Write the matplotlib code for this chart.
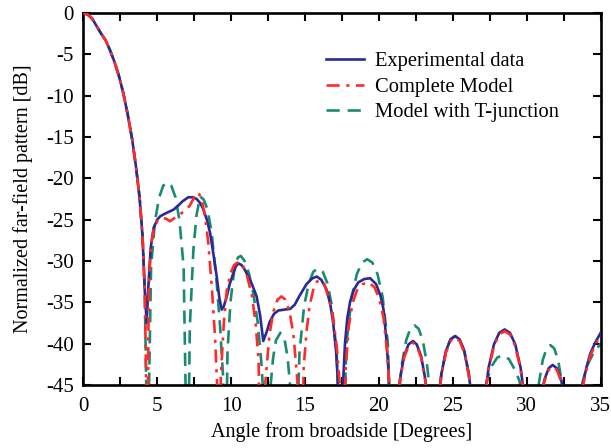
import numpy as np
import matplotlib
matplotlib.use("Agg")
import matplotlib.pyplot as plt
from matplotlib.ticker import MultipleLocator, FuncFormatter

# main lobe (shared by all three curves)
main_x = [0.0, 0.3, 0.6, 0.9, 1.2, 1.5, 1.8, 2.1, 2.4, 2.7, 3.0, 3.3, 3.55, 3.8, 4.0, 4.15]
main_y = [0.0, -0.2, -0.7, -1.6, -2.5, -3.3, -4.5, -5.9, -7.6, -9.7, -12.3, -15.3, -18.5, -22.3, -27.0, -33.5]

# Experimental data (side lobes)
exp_x = [4.28, 4.4, 4.55, 4.75, 5.0, 5.2, 5.5, 5.86, 6.1, 6.42, 6.7, 7.1, 7.4, 7.66, 7.9, 8.1,
         8.35, 8.57, 8.8, 9.02, 9.2, 9.36, 9.5, 9.7, 9.9, 10.14, 10.3, 10.48, 10.7, 10.9, 11.1,
         11.4, 11.72, 11.95, 12.17, 12.4, 12.6, 12.9, 13.2, 13.6, 14.0, 14.3, 14.6, 15.1, 15.5,
         15.8, 16.1, 16.46, 16.7, 16.9, 17.1, 17.25, 17.4, 17.55, 17.7, 17.85, 18.05, 18.3, 18.6,
         19.0, 19.4, 19.8, 20.1, 20.3, 20.5, 20.65, 20.85,
         21.42, 21.7, 22.0, 22.3, 22.55, 22.85, 23.13, 23.3, 23.6,
         24.0, 24.22, 24.53, 24.84, 25.15, 25.46, 25.77, 26.08, 26.3, 26.7,
         27.17, 27.42, 27.78, 28.14, 28.5, 28.86, 29.22, 29.58, 29.83, 30.3,
         30.89, 31.19, 31.48, 31.75, 32.04, 32.33, 32.6, 33.2,
         33.6, 33.8, 34.05, 34.3, 34.6, 35.0]
exp_y = [-37.5, -33.0, -28.5, -26.0, -25.0, -24.6, -24.3, -24.0, -23.8, -23.3, -22.8, -22.3, -22.3,
         -22.5, -23.0, -23.7, -25.0, -26.6, -29.2, -31.9, -34.5, -35.9, -35.5, -34.3, -32.8, -31.5,
         -30.7, -30.3, -30.5, -31.0, -31.7, -32.8, -34.3, -36.5, -39.7, -38.6, -37.4, -36.4, -36.0,
         -35.9, -35.8, -35.3, -34.3, -32.8, -32.1, -31.9, -32.3, -33.5, -35.2, -37.5, -41.0, -45.5,
         -60.0, -45.5, -40.0, -37.0, -34.9, -33.5, -32.6, -32.2, -32.1, -32.8, -34.2, -35.8, -39.5,
         -43.5, -60.0,
         -44.3, -41.5, -40.1, -39.7, -40.1, -41.5, -44.3, -47.0, -60.0,
         -47.1, -43.7, -40.9, -39.5, -39.1, -39.5, -40.9, -43.7, -47.1, -60.0,
         -46.3, -42.9, -40.1, -38.7, -38.3, -38.7, -40.1, -42.9, -46.3, -60.0,
         -47.2, -44.4, -43.0, -42.6, -43.0, -44.4, -47.2, -60.0,
         -47.0, -44.8, -42.8, -41.2, -40.0, -38.7]

# Complete Model
cm_x = [4.25, 4.3, 4.42, 4.55, 4.75, 5.0, 5.3, 5.6, 5.86, 6.1, 6.5, 6.9, 7.2, 7.5, 7.77, 8.0, 8.23,
        8.45, 8.68, 8.9, 9.05, 9.15, 9.3, 9.5, 9.7, 9.95, 10.2, 10.5, 10.8, 11.1, 11.4, 11.65,
        11.85, 12.05,
        12.32, 12.59, 12.86, 13.13, 13.4, 13.67, 13.94, 14.21, 14.48, 14.75,
        14.9, 15.1, 15.3, 15.55, 15.8, 16.0, 16.3, 16.6, 16.9, 17.15, 17.35, 17.55,
        17.75, 17.95, 18.2, 18.5, 18.9, 19.3, 19.7, 20.0, 20.3, 20.55, 20.7, 20.9,
        21.42, 21.7, 22.0, 22.3, 22.55, 22.85, 23.13, 23.3, 23.6,
        24.0, 24.22, 24.53, 24.84, 25.15, 25.46, 25.77, 26.08, 26.3, 26.7,
        27.17, 27.42, 27.78, 28.14, 28.5, 28.86, 29.22, 29.58, 29.83, 30.3,
        30.89, 31.19, 31.48, 31.75, 32.04, 32.33, 32.6, 33.2,
        33.6, 33.8, 34.05, 34.3, 34.6, 35.0]
cm_y = [-45.0, -60.0, -34.0, -28.5, -26.2, -25.2, -24.8, -24.9, -25.2, -24.9, -24.4, -23.9, -23.3,
        -22.3, -21.7, -22.5, -24.6, -27.8, -33.0, -39.0, -45.0, -60.0, -44.0, -37.5, -33.6, -31.5,
        -30.5, -30.1, -30.6, -32.0, -34.2, -37.5, -42.0, -60.0,
        -44.5, -38.9, -36.1, -34.7, -34.3, -34.7, -36.1, -38.9, -44.5, -60.0,
        -43.0, -38.5, -35.5, -33.5, -32.5, -32.3, -32.8, -34.5, -37.0, -40.5, -45.0, -60.0,
        -43.0, -38.0, -35.2, -33.6, -32.8, -32.6, -33.2, -34.5, -36.8, -41.0, -45.0, -60.0,
        -44.5, -41.7, -40.3, -39.9, -40.3, -41.7, -44.5, -47.2, -60.0,
        -47.3, -43.9, -41.1, -39.7, -39.3, -39.7, -41.1, -43.9, -47.3, -60.0,
        -46.5, -43.1, -40.3, -38.9, -38.5, -38.9, -40.3, -43.1, -46.5, -60.0,
        -47.4, -44.6, -43.2, -42.8, -43.2, -44.6, -47.4, -60.0,
        -47.3, -45.1, -43.1, -41.5, -40.3, -39.0]

# Model with T-junction
tj_x = [4.25, 4.3, 4.58, 4.85, 5.13, 5.4, 5.68, 5.95, 6.23, 6.5, 6.78, 7.05,
        7.2, 7.44, 7.65, 7.9, 8.15, 8.4, 8.68, 9.02, 9.25, 9.45, 9.6,
        9.75, 9.95, 10.2, 10.45, 10.65, 10.9, 11.2, 11.5, 11.8, 12.05, 12.2, 12.35,
        12.64, 12.84, 13.03, 13.33, 13.62, 13.82, 14.01, 14.3,
        14.62, 14.93, 15.25, 15.56, 15.88, 16.19, 16.51, 16.82, 17.14, 17.45,
        17.8, 18.15, 18.5, 18.85, 19.2, 19.55, 19.9, 20.25, 20.6, 20.95,
        21.42, 21.56, 21.84, 22.12, 22.4, 22.68, 22.96, 23.24, 23.38, 23.7,
        24.0, 24.22, 24.53, 24.84, 25.15, 25.46, 25.77, 26.08, 26.3, 26.7,
        27.0, 27.3, 27.6, 28.0, 28.4, 28.8, 29.2, 29.5, 29.75, 30.3,
        30.82, 31.08, 31.34, 31.6, 31.86, 32.12, 32.38, 32.56, 32.95,
        33.5, 33.8, 34.1, 34.5, 35.0]
tj_y = [-45.0, -60.0, -30.7, -25.1, -22.3, -20.9, -20.5, -20.9, -22.3, -25.1, -30.7, -60.0,
        -38.0, -28.7, -24.5, -22.2, -22.6, -23.8, -26.6, -32.7, -38.0, -44.0, -60.0,
        -41.0, -35.0, -31.2, -29.6, -29.4, -30.0, -31.5, -34.0, -37.5, -42.5, -47.0, -60.0,
        -45.6, -41.7, -39.6, -38.7, -39.6, -41.7, -45.6, -60.0,
        -41.1, -35.5, -32.7, -31.3, -30.9, -31.3, -32.7, -35.5, -41.1, -60.0,
        -40.0, -34.4, -31.6, -30.2, -29.8, -30.2, -31.6, -34.4, -40.0, -60.0,
        -44.7, -42.4, -39.6, -38.2, -37.8, -38.2, -39.6, -42.4, -44.7, -60.0,
        -47.1, -43.7, -40.9, -39.5, -39.1, -39.5, -40.9, -43.7, -47.1, -60.0,
        -47.0, -44.5, -42.8, -41.7, -41.4, -41.9, -43.2, -44.5, -47.0, -60.0,
        -44.8, -42.0, -40.6, -40.2, -40.6, -42.0, -44.8, -48.0, -60.0,
        -47.0, -44.5, -42.6, -41.2, -40.0]

plt.rcParams['font.family'] = ['Liberation Serif', 'DejaVu Serif']
plt.rcParams['axes.unicode_minus'] = False

fig = plt.figure(figsize=(6.11, 4.48), dpi=100)
ax = fig.add_axes([0.1365, 0.141, 0.8466, 0.830])

ax.plot(main_x + exp_x, main_y + exp_y, color='#2a2a96', lw=1.9,
        label='Experimental data', zorder=3)
ax.plot(main_x + cm_x, main_y + cm_y, color='#ff2a2a', lw=1.9,
        dashes=(5, 2.5, 1.2, 2.5), label='Complete Model', zorder=4)
ax.plot(main_x + tj_x, main_y + tj_y, color='#1a8a72', lw=1.9,
        dashes=(5, 3), label='Model with T-junction', zorder=2)

ax.set_xlim(0, 35)
ax.set_ylim(-45, 0)
ax.xaxis.set_major_locator(MultipleLocator(2.5))
ax.xaxis.set_major_formatter(FuncFormatter(lambda v, p: f"{v:g}" if v % 5 == 0 else ""))
ax.yaxis.set_major_locator(MultipleLocator(5))
ax.tick_params(direction='in', length=6, width=1.5, top=True, right=True,
               labelsize=15)
ax.tick_params(axis='x', pad=9)
ax.tick_params(axis='y', pad=7)
for s in ax.spines.values():
    s.set_linewidth(1.9)

ax.set_xlabel("Angle from broadside [Degrees]", fontsize=14.5, labelpad=4)
ax.set_ylabel("Normalized far-field pattern [dB]", fontsize=14.5, labelpad=9)

ax.legend(loc='upper right', bbox_to_anchor=(0.955, 0.945), frameon=False,
          fontsize=14.8, handlelength=1.85, labelspacing=0.3, handletextpad=0.55)

fig.savefig("out.png", dpi=100)
